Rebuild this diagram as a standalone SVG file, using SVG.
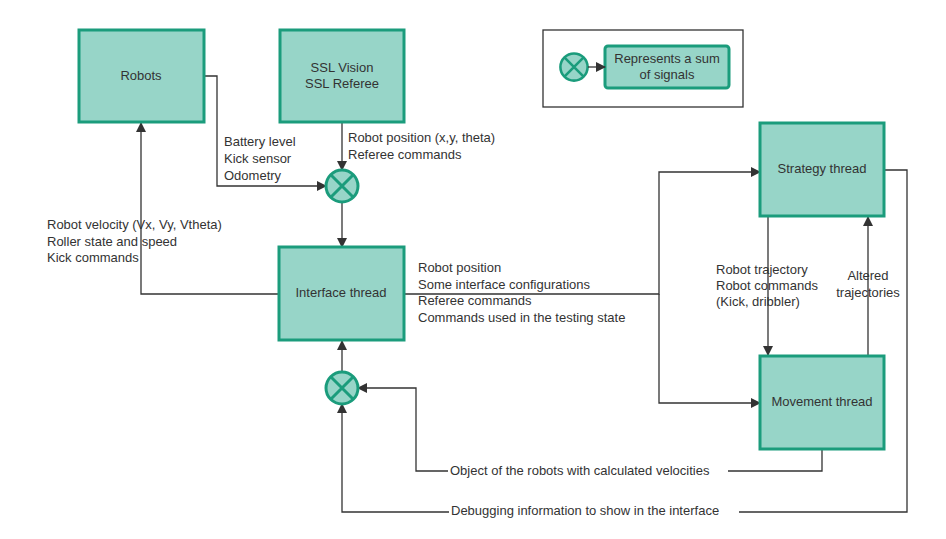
<svg xmlns="http://www.w3.org/2000/svg" width="946" height="539" viewBox="0 0 946 539">
<defs>
<marker id="a" markerWidth="10" markerHeight="10" refX="9" refY="5" orient="auto" markerUnits="userSpaceOnUse"><path d="M0,0 L10,5 L0,10 Z" fill="#333"/></marker>
<g id="sum"><circle r="16" fill="#97d5c8" stroke="#1b9c7c" stroke-width="3"/><path d="M-11,-11 L11,11 M11,-11 L-11,11" stroke="#1b9c7c" stroke-width="3"/></g>
</defs>
<style>
.n{fill:#97d5c8;stroke:#1b9c7c;stroke-width:3}
text{font-family:"Liberation Sans",Arial,sans-serif;font-size:13px;fill:#333}
.c{text-anchor:middle}
.l{fill:none;stroke:#333;stroke-width:1.3}
</style>
<rect width="946" height="539" fill="#fff"/>
<g id="legend"><rect x="543" y="30" width="200" height="77" fill="#fff" stroke="#333" stroke-width="1.3"/>
<use href="#sum" transform="translate(574,67) scale(0.85)"/>
<rect class="n" x="605" y="46" width="124" height="42" rx="3"/>
<text class="c" x="667" y="63">Represents a sum</text><text class="c" x="667" y="79">of signals</text></g>
<g id="connectors">
<path class="l" d="M588,67 L605,67" marker-end="url(#a)"/>
<path class="l" d="M342,122 L342,170" marker-end="url(#a)"/>
<path class="l" d="M204,76 L217,76 L217,186 L326,186" marker-end="url(#a)"/>
<path class="l" d="M342,202 L342,247" marker-end="url(#a)"/>
<path class="l" d="M279,294 L141,294 L141,123" marker-end="url(#a)"/>
<path class="l" d="M404,294 L659,294 L659,172 L760,172" marker-end="url(#a)"/>
<path class="l" d="M659,294 L659,403 L760,403" marker-end="url(#a)"/>
<path class="l" d="M768,216 L768,355" marker-end="url(#a)"/>
<path class="l" d="M868,356 L868,217" marker-end="url(#a)"/>
<path class="l" d="M822,449 L822,471 L416,471 L416,388 L358,388" marker-end="url(#a)"/>
<path class="l" d="M884,170 L907,170 L907,512 L342,512 L342,404" marker-end="url(#a)"/>
<path class="l" d="M342,372 L342,341" marker-end="url(#a)"/>
</g>
<g id="sum1"><use href="#sum" x="342" y="186"/></g>
<g id="sum2"><use href="#sum" x="342" y="388"/></g>
<g id="robots"><rect class="n" x="79" y="30" width="125" height="92"/><text class="c" x="141" y="80">Robots</text></g>
<g id="ssl"><rect class="n" x="280" y="30" width="124" height="92"/><text class="c" x="342" y="72">SSL Vision</text><text class="c" x="342" y="88">SSL Referee</text></g>
<g id="interface"><rect class="n" x="279" y="247" width="125" height="93"/><text class="c" x="341" y="297">Interface thread</text></g>
<g id="strategy"><rect class="n" x="760" y="123" width="124" height="93"/><text class="c" x="822" y="173">Strategy thread</text></g>
<g id="movement"><rect class="n" x="760" y="356" width="124" height="93"/><text class="c" x="822" y="406">Movement thread</text></g>
<g id="labels">
<text x="224" y="146">Battery level</text><text x="224" y="163">Kick sensor</text><text x="224" y="180">Odometry</text>
<text x="348" y="142">Robot position (x,y, theta)</text><text x="348" y="159">Referee commands</text>
<text x="47" y="229">Robot velocity (Vx, Vy, Vtheta)</text><text x="47" y="246">Roller state and speed</text><text x="47" y="262">Kick commands</text>
<text x="418" y="272">Robot position</text><text x="418" y="289">Some interface configurations</text><text x="418" y="305">Referee commands</text><text x="418" y="322">Commands used in the testing state</text>
<text x="716" y="274">Robot trajectory</text><text x="716" y="290">Robot commands</text><text x="716" y="306">(Kick, dribbler)</text>
<text class="c" x="868" y="280">Altered</text><text class="c" x="868" y="297">trajectories</text>
<rect x="448" y="463" width="280" height="16" fill="#fff"/><text x="450" y="475">Object of the robots with calculated velocities</text>
<rect x="449" y="503" width="290" height="16" fill="#fff"/><text x="451" y="515">Debugging information to show in the interface</text>
</g>
</svg>
